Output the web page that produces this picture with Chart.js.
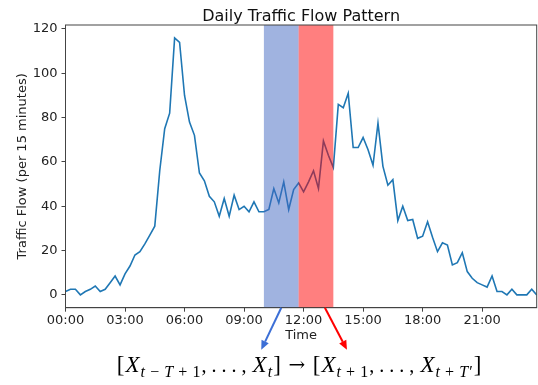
<!DOCTYPE html>
<html>
<head>
<meta charset="utf-8">
<script src="https://cdn.jsdelivr.net/npm/chart.js@4.4.1/dist/chart.umd.min.js"></script>
<style>
  html, body { margin: 0; padding: 0; background: #fff; }
</style>
</head>
<body>
<canvas id="trafficChart" width="538" height="385"></canvas>
<script>
// vehicles per 15-minute slot, 00:00 .. 23:45 (96 slots)
const flow = [
  1.5, 2.5, 2.5, 0, 1.5, 2.5, 4, 1.5, 2.5, 5.5, 8.5, 4.5,
  9.5, 13, 18, 19.5, 23, 27, 31, 56, 75, 82, 116, 114,
  90, 78, 72, 55, 51.5, 44.5, 42, 35.5, 43.5, 35.5, 45, 38.5,
  40, 37.5, 42, 37.5, 37.5, 38.5, 48, 41.5, 51, 38.5, 47.5, 50.5,
  46.5, 51, 56, 48, 69.5, 63, 57.5, 86, 84.5, 91, 66.5, 66.5,
  71, 65.5, 58.5, 77.5, 58, 49.5, 52, 33.5, 40, 33.5, 34, 25.5,
  26.5, 33, 26, 19.5, 23.5, 22.5, 13.5, 14.5, 19, 10.5, 7.5, 5.5,
  4.5, 3.5, 8.5, 1.5, 1.5, 0, 2.5, 0, 0, 0, 2.5, 0
];
const xTickPos = [0, 12, 24, 36, 48, 60, 72, 84];
const xTickLabels = ['00:00', '03:00', '06:00', '09:00', '12:00', '15:00', '18:00', '21:00'];
const yTicks = [0, 20, 40, 60, 80, 100, 120];
const inputWindow = [40, 47];   // history slots (blue band)
const outputWindow = [47, 54];  // forecast slots (red band)

const FONT = "'DejaVu Sans', sans-serif";
const SERIF = "'Liberation Serif', 'DejaVu Serif', serif";

function drawArrow(ctx, x0, y0, x1, y1, color) {
  const ang = Math.atan2(y1 - y0, x1 - x0);
  const hl = 9, hw = 4;
  const bx = x1 - hl * Math.cos(ang), by = y1 - hl * Math.sin(ang);
  ctx.strokeStyle = color;
  ctx.fillStyle = color;
  ctx.lineWidth = 2;
  ctx.beginPath();
  ctx.moveTo(x0, y0);
  ctx.lineTo(bx, by);
  ctx.stroke();
  ctx.beginPath();
  ctx.moveTo(x1, y1);
  ctx.lineTo(bx + hw * Math.sin(ang), by - hw * Math.cos(ang));
  ctx.lineTo(bx - hw * Math.sin(ang), by + hw * Math.cos(ang));
  ctx.closePath();
  ctx.fill();
}

// [X_{t-T+1}, ..., X_t] -> [X_{t+1}, ..., X_{t+T'}]
const big = 23, small = 16, dots = 20, sub = 5;
const formula = [
  ['[', 'n', big, 0], ['X', 'i', big, 0],
  ['t', 'i', small, sub], [' \u2212 ', 'n', small, sub], ['T', 'i', small, sub], [' + ', 'n', small, sub], ['1', 'n', small, sub],
  [', . . . , ', 'n', dots, 0], ['X', 'i', big, 0], ['t', 'i', small, sub], [']', 'n', big, 0],
  [' \u2192 ', 'n', 20, -1, "'DejaVu Serif', serif"],
  ['[', 'n', big, 0], ['X', 'i', big, 0], ['t', 'i', small, sub], [' + ', 'n', small, sub], ['1', 'n', small, sub],
  [', . . . , ', 'n', dots, 0], ['X', 'i', big, 0],
  ['t', 'i', small, sub], [' + ', 'n', small, sub], ['T', 'i', small, sub], ['\u2032', 'n', small, sub],
  [']', 'n', big, 0]
];
const runGap = 1.1;

function runFont(r) {
  return (r[1] === 'i' ? 'italic ' : '') + r[2] + 'px ' + (r[4] || SERIF);
}

const overlay = {
  id: 'overlay',
  afterDatasetsDraw(chart) {
    const { ctx, chartArea: a, scales: { x } } = chart;
    ctx.save();
    const b0 = x.getPixelForValue(inputWindow[0]);
    const b1 = x.getPixelForValue(inputWindow[1]);
    const r1 = x.getPixelForValue(outputWindow[1]);
    ctx.fillStyle = 'rgba(66,103,194,0.5)';
    ctx.fillRect(b0, a.top, b1 - b0, a.bottom - a.top);
    ctx.fillStyle = 'rgba(255,0,0,0.5)';
    ctx.fillRect(b1, a.top, r1 - b1, a.bottom - a.top);
    ctx.restore();
  },
  afterDraw(chart) {
    const { ctx, chartArea: a, scales: { x } } = chart;
    ctx.save();
    // frame
    ctx.strokeStyle = '#444';
    ctx.lineWidth = 1;
    ctx.strokeRect(a.left, a.top, a.right - a.left, a.bottom - a.top);

    // title
    const cx = (a.left + a.right) / 2;
    ctx.fillStyle = '#111';
    ctx.font = '16px ' + FONT;
    ctx.textAlign = 'center';
    ctx.textBaseline = 'alphabetic';
    ctx.fillText('Daily Traffic Flow Pattern', cx, 21);

    // arrows from the windows down to the formula
    const bs = x.getPixelForValue((inputWindow[0] + inputWindow[1]) / 2);
    const rs = x.getPixelForValue(outputWindow[0] + 5.3);
    drawArrow(ctx, bs, a.bottom, bs - 20, a.bottom + 42, '#3c6fd6');
    drawArrow(ctx, rs, a.bottom, rs + 22, a.bottom + 42, '#ff0000');

    // formula
    ctx.textAlign = 'left';
    ctx.fillStyle = '#000';
    let total = 0;
    formula.forEach(r => { ctx.font = runFont(r); total += ctx.measureText(r[0]).width + runGap; });
    total -= runGap;
    let px = cx - 2 - total / 2;
    const base = 372;
    formula.forEach(r => {
      ctx.font = runFont(r);
      ctx.fillText(r[0], px, base + r[3]);
      px += ctx.measureText(r[0]).width + runGap;
    });
    ctx.restore();
  }
};

new Chart(document.getElementById('trafficChart'), {
  type: 'line',
  data: {
    datasets: [{
      data: flow.map((v, i) => ({ x: i, y: v })),
      borderColor: '#1f77b4',
      borderWidth: 1.6,
      pointRadius: 0,
      tension: 0,
      fill: false
    }]
  },
  options: {
    responsive: false,
    devicePixelRatio: 1,
    animation: false,
    layout: { padding: { top: 25, right: 1.3, left: 0, bottom: 0 } },
    plugins: { legend: { display: false }, tooltip: { enabled: false }, title: { display: false } },
    scales: {
      x: {
        type: 'linear',
        min: 0,
        max: 95,
        afterBuildTicks: s => { s.ticks = xTickPos.map(v => ({ value: v })); },
        afterFit: s => { s.height = 77.3; },
        ticks: {
          autoSkip: false,
          maxRotation: 0,
          padding: 1,
          color: '#222',
          font: { family: FONT, size: 13 },
          callback: v => xTickLabels[xTickPos.indexOf(v)]
        },
        grid: { drawOnChartArea: false, tickLength: 4, color: '#444' },
        border: { color: '#444' },
        title: {
          display: true,
          text: 'Time',
          color: '#222',
          font: { family: FONT, size: 13 },
          padding: { top: 0, bottom: 41.2 }
        }
      },
      y: {
        min: -5.8,
        max: 121.8,
        afterBuildTicks: s => { s.ticks = yTicks.map(v => ({ value: v })); },
        afterFit: s => { s.width = 65.5; },
        ticks: {
          padding: 4,
          color: '#222',
          font: { family: FONT, size: 13 }
        },
        grid: { drawOnChartArea: false, tickLength: 4, color: '#444' },
        border: { color: '#444' },
        title: {
          display: true,
          text: 'Traffic Flow (per 15 minutes)',
          color: '#222',
          font: { family: FONT, size: 13 },
          padding: { top: 15, bottom: 0 }
        }
      }
    }
  },
  plugins: [overlay]
});
</script>
</body>
</html>
